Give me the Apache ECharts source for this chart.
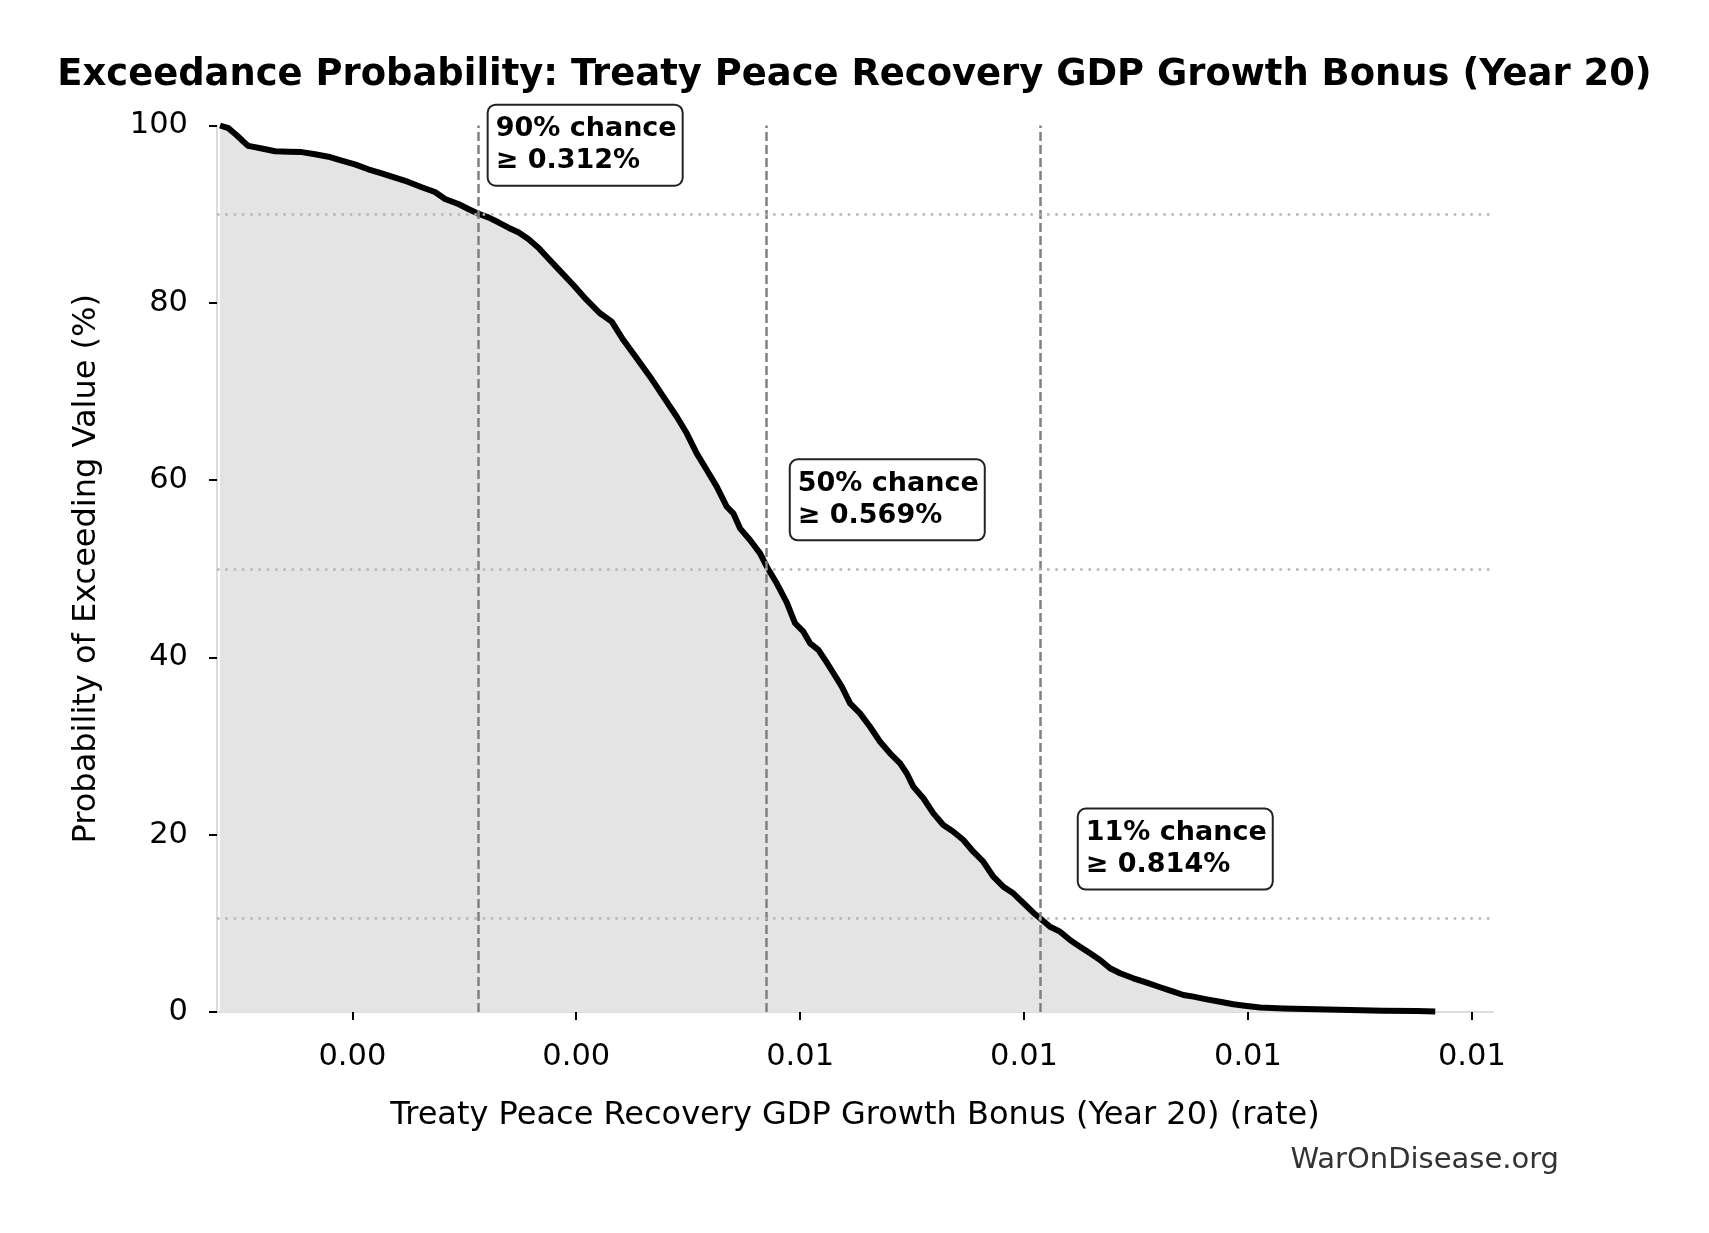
<!DOCTYPE html>
<html><head><meta charset="utf-8">
<script src="https://cdn.jsdelivr.net/npm/echarts@6/dist/echarts.min.js"></script>
<style>html,body{margin:0;padding:0;background:#fff}#chart{width:1709px;height:1233px}</style>
</head><body><div id="chart"></div>
<script>
// ---- data ----
const xValues = [
  0.000818,0.000892,0.000967,0.001026,0.001071,0.001191,0.001310,0.001428,0.001548,0.001667,
  0.001786,0.001905,0.002023,0.002142,0.002262,0.002381,0.002500,0.002620,0.002738,0.002828,
  0.002947,0.003036,0.003126,0.003215,0.003304,0.003394,0.003483,0.003572,0.003662,0.003751,
  0.003855,0.003974,0.004093,0.004212,0.004317,0.004421,0.004540,0.004659,0.004778,0.004898,
  0.004987,0.005076,0.005166,0.005255,0.005344,0.005403,0.005463,0.005552,0.005642,0.005702,
  0.005791,0.005880,0.005955,0.006029,0.006089,0.006163,0.006223,0.006298,0.006372,0.006446,
  0.006535,0.006624,0.006714,0.006803,0.006893,0.006952,0.007011,0.007101,0.007190,0.007279,
  0.007369,0.007458,0.007547,0.007636,0.007726,0.007815,0.007904,0.007994,0.008083,0.008143,
  0.008232,0.008322,0.008411,0.008500,0.008590,0.008679,0.008768,0.008858,0.008977,0.009096,
  0.009215,0.009334,0.009424,0.009513,0.009632,0.009751,0.009870,0.009989,0.010109,0.010317,
  0.010615,0.010913,0.011210,0.011508,0.011673
];
const exceedPct = [
  100.0,99.7,98.9,98.2,97.7,97.4,97.1,97.05,97.0,96.75,
  96.48,96.03,95.62,95.06,94.61,94.11,93.63,93.03,92.50,91.71,
  91.14,90.58,90.05,89.64,89.08,88.47,87.95,87.20,86.22,85.0,
  83.6,82.01,80.32,78.82,77.87,75.80,73.74,71.67,69.41,67.15,
  65.28,63.02,61.14,59.26,57.00,56.26,54.56,53.24,51.74,50.23,
  48.36,46.2,43.85,42.90,41.59,40.84,39.71,38.21,36.70,34.82,
  33.69,32.18,30.49,29.18,28.05,26.93,25.42,24.11,22.41,21.09,
  20.34,19.40,18.08,16.95,15.26,14.13,13.39,12.3,11.2,10.57,
  9.62,9.06,8.12,7.37,6.62,5.87,4.93,4.37,3.80,3.31,
  2.79,2.29,1.92,1.73,1.43,1.16,0.87,0.68,0.50,0.40,
  0.30,0.22,0.15,0.10,0.05
];
const xTickValues = [0.002, 0.004, 0.006, 0.008, 0.010, 0.012];
const thresholdPct = [90, 50, 10.6];
const thresholdValue = [0.003124, 0.005694, 0.008144];
const titleText = 'Exceedance Probability: Treaty Peace Recovery GDP Growth Bonus (Year 20)';
const xAxisName = 'Treaty Peace Recovery GDP Growth Bonus (Year 20) (rate)';
const yAxisName = 'Probability of Exceeding Value (%)';
const watermark = 'WarOnDisease.org';

// ---- build ----
const FONT = 'DejaVu Sans';
const X_MIN = 0.000791, X_MAX = 0.012189, Y_MIN = 0, Y_MAX = 100;
const curve = xValues.map((x, i) => [x, exceedPct[i]]);

const vStyle = { color: '#808080', width: 2.5, type: [9, 4] };
const hStyle = { color: '#b5b5b5', width: 2.5, type: [2.5, 5.8] };
const vLines = thresholdValue.map(v => [
  { coord: [v, Y_MIN], lineStyle: vStyle },
  { coord: [v, Y_MAX] }
]);
const hLines = thresholdPct.map(p => [
  { coord: [X_MIN, p], lineStyle: hStyle },
  { coord: [X_MAX, p] }
]);

const annotations = thresholdValue.map((v, i) => ({
  coord: [v * 1.05, thresholdPct[i] + 8],
  label: {
    formatter: Math.round(thresholdPct[i]) + '% chance\n\u2265 ' + (v * 100).toFixed(3) + '%'
  }
}));

const chart = echarts.init(document.getElementById('chart'), null, { renderer: 'canvas', width: 1709, height: 1233 });

chart.setOption({
  backgroundColor: '#ffffff',
  animation: false,
  title: {
    text: titleText,
    left: 'center',
    top: 52,
    textStyle: { fontFamily: FONT, fontSize: 36.9, fontWeight: 'bold', color: '#000' }
  },
  grid: { left: 217, right: 216, top: 125.5, bottom: 221, containLabel: false },
  xAxis: {
    type: 'value',
    min: X_MIN,
    max: X_MAX,
    name: xAxisName,
    nameLocation: 'middle',
    nameGap: 88,
    nameTextStyle: { fontFamily: FONT, fontSize: 32, color: '#000' },
    axisLine: { show: true, lineStyle: { color: '#dcdcdc', width: 2 } },
    axisTick: { show: true, customValues: xTickValues, length: 8, lineStyle: { color: '#000', width: 2 } },
    axisLabel: {
      customValues: xTickValues,
      formatter: v => v.toFixed(2),
      margin: 30,
      fontFamily: FONT, fontSize: 30.5, color: '#000'
    },
    splitLine: { show: false }
  },
  yAxis: {
    type: 'value',
    min: Y_MIN,
    max: Y_MAX,
    interval: 20,
    name: yAxisName,
    nameLocation: 'middle',
    nameGap: 114,
    nameTextStyle: { fontFamily: FONT, fontSize: 32, color: '#000' },
    axisLine: { show: true, lineStyle: { color: '#dcdcdc', width: 2 } },
    axisTick: { show: true, length: 8, lineStyle: { color: '#000', width: 2 } },
    axisLabel: { margin: 29, fontFamily: FONT, fontSize: 30.5, color: '#000' },
    splitLine: { show: false }
  },
  series: [
    {
      type: 'line',
      data: curve,
      showSymbol: false,
      silent: true,
      z: 1,
      lineStyle: { width: 0, opacity: 0 },
      areaStyle: { color: '#e4e4e4', opacity: 1, origin: 'start' }
    },
    {
      type: 'line',
      data: curve,
      showSymbol: false,
      silent: true,
      z: 2,
      lineStyle: { width: 0, opacity: 0 },
      markLine: {
        silent: true,
        symbol: 'none',
        animation: false,
        label: { show: false },
        data: [...vLines, ...hLines]
      }
    },
    {
      type: 'line',
      data: curve,
      showSymbol: false,
      silent: true,
      z: 3,
      lineStyle: { color: '#000', width: 6, join: 'round', cap: 'butt' },
      markPoint: {
        silent: true,
        symbol: 'circle',
        symbolSize: 0,
        itemStyle: { color: 'transparent' },
        label: {
          show: true,
          position: 'right',
          distance: 0,
          offset: [-7, 2],
          align: 'left',
          fontFamily: FONT,
          fontSize: 27,
          fontWeight: 'bold',
          lineHeight: 32,
          color: '#000',
          backgroundColor: '#ffffff',
          borderColor: '#222',
          borderWidth: 2,
          borderRadius: 7,
          padding: [8, 5, 7, 7]
        },
        data: annotations
      }
    }
  ],
  graphic: [
    {
      type: 'text',
      right: 150,
      top: 1146,
      style: { text: watermark, fontFamily: FONT, fontSize: 29, fill: '#333' }
    }
  ]
});
</script>
</body></html>
